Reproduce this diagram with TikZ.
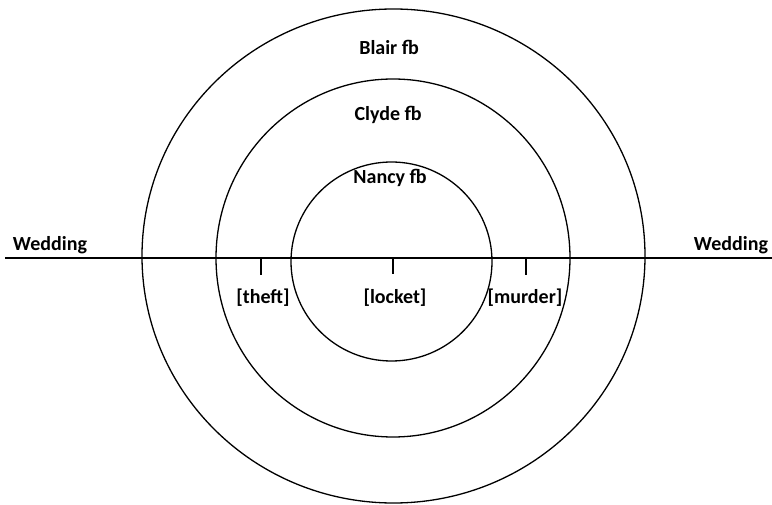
\documentclass[tikz,border=0pt]{standalone}
\usepackage{fontspec}
\setmainfont{Carlito}
\usetikzlibrary{shapes.geometric}
\begin{document}
\begin{tikzpicture}[x=1pt,y=-1pt,
  ring/.style={draw, ellipse, line width=1.3pt, inner sep=0pt, outer sep=0pt},
  lbl/.style={font=\bfseries\fontsize{20}{23}\selectfont, inner sep=0pt, anchor=base},
  tickmark/.style={line width=1.3pt},
  axis/.style={line width=1.8pt}]
\useasboundingbox (0,0) rectangle (772,505);
\node[ring, minimum width=503pt, minimum height=494pt] (outer) at (393.5,256) {};
\node[ring, minimum width=354pt, minimum height=358pt] (middle) at (393,258) {};
\node[ring, minimum width=201pt, minimum height=199pt] (inner) at (391.5,261.5) {};
\coordinate (wl) at (5,258);
\coordinate (wr) at (772,258);
\draw[axis] (wl) -- (wr);
\coordinate (t1) at (261,258);
\coordinate (t1e) at (261,275);
\coordinate (t2) at (393,258);
\coordinate (t2e) at (393,274);
\coordinate (t3) at (526,258);
\coordinate (t3e) at (526,275);
\draw[tickmark] (t1) -- (t1e);
\draw[tickmark] (t2) -- (t2e);
\draw[tickmark] (t3) -- (t3e);
\node[lbl] (blair) at (389,55) {Blair fb};
\node[lbl] (clyde) at (388,121) {Clyde fb};
\node[lbl] (nancy) at (390,184) {Nancy fb};
\node[lbl] (wedl) at (50,251) {Wedding};
\node[lbl] (wedr) at (731,251) {Wedding};
\node[lbl] (theft) at (263,304) {[theft]};
\node[lbl] (locket) at (395,304) {[locket]};
\node[lbl] (murder) at (525,304) {[murder]};
\end{tikzpicture}
\end{document}
